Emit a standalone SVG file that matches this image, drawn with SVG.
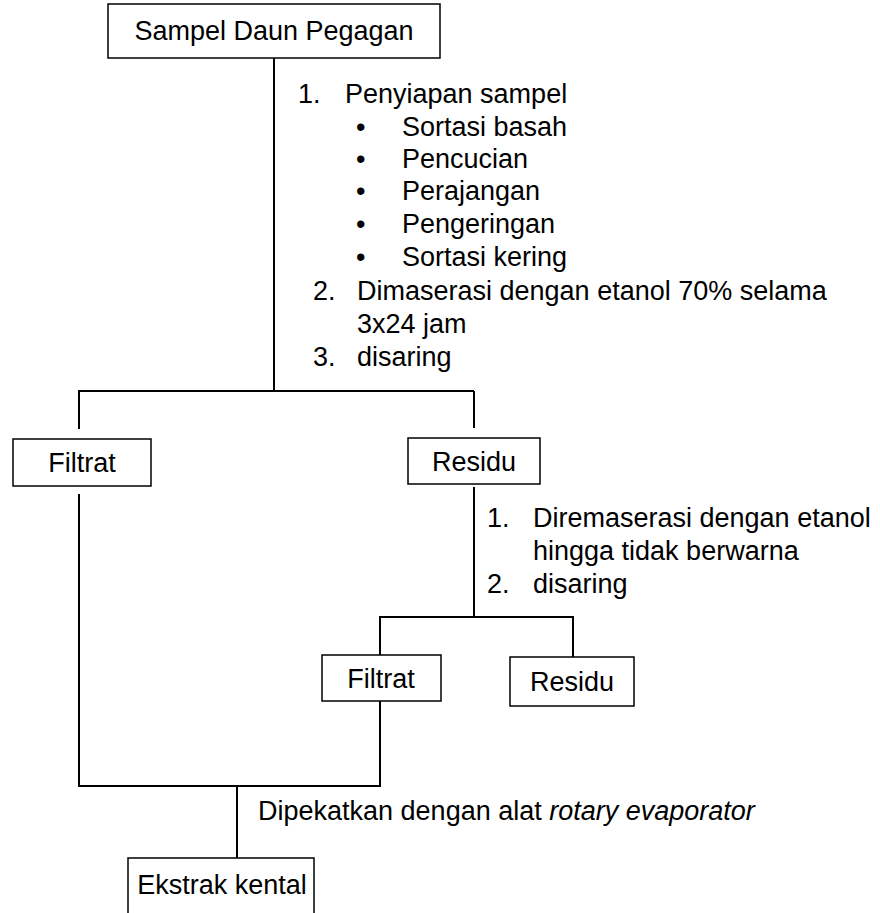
<svg xmlns="http://www.w3.org/2000/svg" width="880" height="913" viewBox="0 0 880 913">
<style>
  .box { fill: #fff; stroke: #000; stroke-width: 1.5; }
  .ln { stroke: #000; stroke-width: 2; fill: none; }
  text { font-family: "Liberation Sans", Arial, sans-serif; font-size: 27px; fill: #000; }
  .c { text-anchor: middle; }
</style>
<rect width="880" height="913" fill="#fff"/>
<g id="connectors">
  <line class="ln" x1="274" y1="58" x2="274" y2="391"/>
  <line class="ln" x1="78" y1="391" x2="474" y2="391"/>
  <line class="ln" x1="79" y1="390" x2="79" y2="429"/>
  <line class="ln" x1="474" y1="391" x2="474" y2="428"/>
  <line class="ln" x1="79" y1="494" x2="79" y2="787"/>
  <line class="ln" x1="474" y1="487" x2="474" y2="618"/>
  <line class="ln" x1="379" y1="617" x2="574" y2="617"/>
  <line class="ln" x1="380" y1="616" x2="380" y2="655"/>
  <line class="ln" x1="573" y1="616" x2="573" y2="657"/>
  <line class="ln" x1="380" y1="701" x2="380" y2="787"/>
  <line class="ln" x1="78" y1="786" x2="381" y2="786"/>
  <line class="ln" x1="237" y1="786" x2="237" y2="858"/>
</g>
<g id="sampel">
  <rect class="box" x="108" y="4" width="332" height="54"/>
  <text class="c" x="274" y="40">Sampel Daun Pegagan</text>
</g>
<g id="step1">
  <text x="298" y="103">1.</text>
  <text x="345" y="103">Penyiapan sampel</text>
  <text x="356" y="136">•</text><text x="402" y="136">Sortasi basah</text>
  <text x="356" y="168">•</text><text x="402" y="168">Pencucian</text>
  <text x="356" y="200">•</text><text x="402" y="200">Perajangan</text>
  <text x="356" y="233">•</text><text x="402" y="233">Pengeringan</text>
  <text x="356" y="266">•</text><text x="402" y="266">Sortasi kering</text>
  <text x="313" y="300">2.</text>
  <text x="357" y="300">Dimaserasi dengan etanol 70% selama</text>
  <text x="357" y="333">3x24 jam</text>
  <text x="313" y="366">3.</text>
  <text x="357" y="366">disaring</text>
</g>
<g id="filtrat1">
  <rect class="box" x="13" y="439" width="138" height="47"/>
  <text class="c" x="82" y="472">Filtrat</text>
</g>
<g id="residu1">
  <rect class="box" x="408" y="438" width="132" height="46"/>
  <text class="c" x="474" y="471">Residu</text>
</g>
<g id="step2">
  <text x="487" y="527">1.</text>
  <text x="533" y="527">Diremaserasi dengan etanol</text>
  <text x="533" y="560">hingga tidak berwarna</text>
  <text x="487" y="593">2.</text>
  <text x="533" y="593">disaring</text>
</g>
<g id="filtrat2">
  <rect class="box" x="322" y="655" width="119" height="46"/>
  <text class="c" x="381" y="688">Filtrat</text>
</g>
<g id="residu2">
  <rect class="box" x="510" y="657" width="124" height="49"/>
  <text class="c" x="572" y="691">Residu</text>
</g>
<g id="step3">
  <text x="258" y="820">Dipekatkan dengan alat <tspan font-style="italic">rotary evaporator</tspan></text>
</g>
<g id="ekstrak">
  <path class="box" d="M128,915 V858 H314 V915"/>
  <text class="c" x="222" y="894">Ekstrak kental</text>
</g>
</svg>
